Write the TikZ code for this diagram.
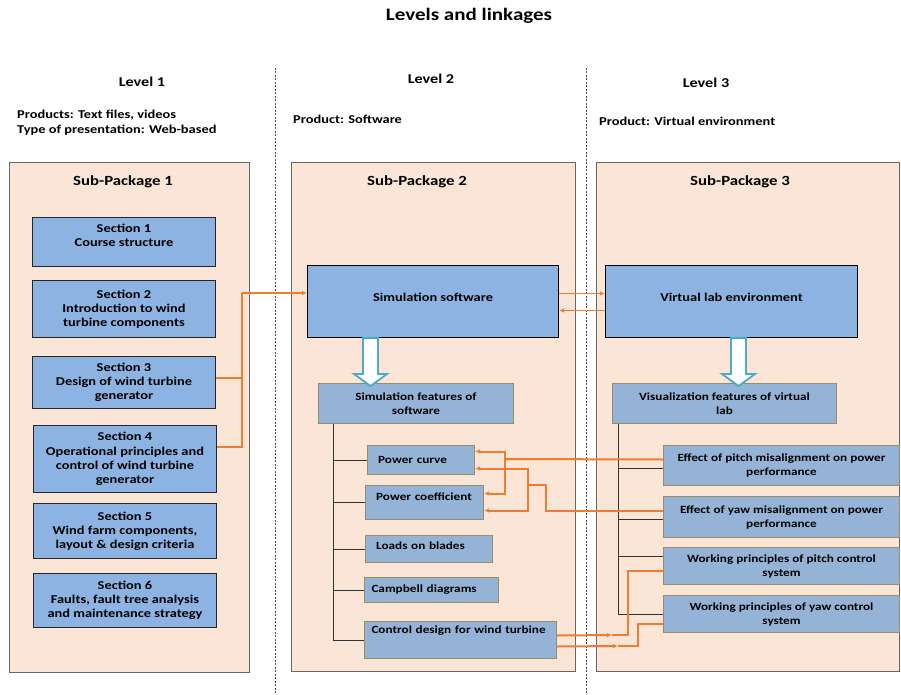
\documentclass[tikz,border=0pt]{standalone}
\usepackage{fontspec}
\setmainfont{Carlito}[FakeStretch=1.2]
\usetikzlibrary{arrows.meta}
\definecolor{peach}{HTML}{FBE5D6}
\definecolor{secblue}{HTML}{8DB3E2}
\definecolor{featblue}{HTML}{95B3D7}
\definecolor{featline}{HTML}{968F65}
\definecolor{pkgline}{HTML}{6B6560}
\definecolor{hollowteal}{HTML}{4BACC6}
\definecolor{linkorange}{HTML}{ED7D31}

\begin{document}
\begin{tikzpicture}
[x=1pt,y=-1pt,%
  every node/.style={font=\bfseries\fontsize{12}{14.5}\selectfont,inner sep=2pt},%
  subpkg/.style={draw=pkgline,fill=peach,line width=1.3pt,anchor=north west},%
  secbox/.style={draw=black!85,fill=secblue,line width=1pt,align=center,anchor=north west,%
    font=\bfseries\fontsize{12}{14.2}\selectfont},%
  featbox/.style={draw=featline,fill=featblue,line width=1pt,align=center,anchor=north west,%
    font=\bfseries\fontsize{11}{14}\selectfont},%
  itembox/.style={featbox,align=left,inner xsep=7pt},%
  tree/.style={draw=black!80,line width=0.8pt},%
  link/.style={draw=linkorange,line width=2pt,-{Latex[length=5pt,width=4.5pt]}},%
  hollow/.style={draw=hollowteal,fill=white,line width=1.8pt,line join=miter},%
  levelsep/.style={draw=black!70,line width=0.8pt,dash pattern=on 2pt off 1.5pt}]
\path[fill=white,use as bounding box] (0,0) rectangle (901,695);

% titles
\node[font=\bfseries\fontsize{17.5}{20}\selectfont] (title) at (469,16) {Levels and linkages};
\node[font=\bfseries\fontsize{13.5}{16}\selectfont] (lev1) at (142,82) {Level 1};
\node[font=\bfseries\fontsize{13.5}{16}\selectfont] (lev2) at (431,79) {Level 2};
\node[font=\bfseries\fontsize{13.5}{16}\selectfont] (lev3) at (706,83) {Level 3};
\node[anchor=west,align=left,inner sep=0pt,font=\bfseries\fontsize{12}{15}\selectfont] (prod1) at (17,122.5)
  {Products: Text files, videos\\Type of presentation: Web-based};
\node[anchor=west,inner sep=0pt] (prod2) at (293,119) {Product: Software};
\node[anchor=west,inner sep=0pt] (prod3) at (599,121) {Product: Virtual environment};

% level separators
\draw[levelsep] (275,68) -- (275,695);
\draw[levelsep] (586,68) -- (586,695);

% sub-packages
\node[subpkg,minimum width=240,minimum height=510] (sp1) at (9,162) {};
\node[subpkg,minimum width=284,minimum height=509] (sp2) at (291,162) {};
\node[subpkg,minimum width=303,minimum height=509] (sp3) at (596,162) {};
\node[font=\bfseries\fontsize{14}{16}\selectfont] (ttl1) at (123,182) {Sub-Package 1};
\node[font=\bfseries\fontsize{14}{16}\selectfont] (ttl2) at (417,182) {Sub-Package 2};
\node[font=\bfseries\fontsize{14}{16}\selectfont] (ttl3) at (740,182) {Sub-Package 3};

% level 1
\node[secbox,minimum width=183,minimum height=49,text depth=13pt] (sec1) at (32,217) {Section 1\\Course structure};
\node[secbox,minimum width=183,minimum height=57] (sec2) at (32,280) {Section 2\\Introduction to wind\\turbine components};
\node[secbox,minimum width=183,minimum height=52] (sec3) at (32,356) {Section 3\\Design of wind turbine\\generator};
\node[secbox,minimum width=183,minimum height=67] (sec4) at (33,425) {Section 4\\Operational principles and\\control of wind turbine\\generator};
\node[secbox,minimum width=183,minimum height=55] (sec5) at (33,503) {Section 5\\Wind farm components,\\layout \& design criteria};
\node[secbox,minimum width=183,minimum height=54] (sec6) at (33,573) {Section 6\\Faults, fault tree analysis\\and maintenance strategy};

% level 2
\node[secbox,draw=black,minimum width=251,minimum height=72,text depth=8pt] (sim) at (307,265) {Simulation software};
\node[featbox,minimum width=195,minimum height=40] (sf) at (318,383) {Simulation features of\\software};
\node[itembox,minimum width=107,text width=93,minimum height=29] (pcv) at (367,445) {~Power curve};
\node[itembox,minimum width=118,text width=104,minimum height=34,text depth=12pt] (pco) at (365,485) {~Power coefficient};
\node[itembox,minimum width=127,text width=113,minimum height=27,text depth=7pt] (lob) at (365,535) {~Loads on blades};
\node[itembox,minimum width=134,text width=120,minimum height=25] (cam) at (364,577) {Campbell diagrams};
\node[itembox,minimum width=192,text width=178,minimum height=37,text depth=20pt] (cd) at (364,621) {Control design for wind turbine};

% level 3
\node[secbox,draw=black,minimum width=252,minimum height=72,text depth=8pt] (vle) at (605,265) {Virtual lab environment};
\node[featbox,minimum width=224,minimum height=40] (vis) at (612,383) {Visualization features of virtual\\lab};
\node[featbox,minimum width=236,minimum height=40] (pe) at (663,445) {Effect of pitch misalignment on power\\performance};
\node[featbox,minimum width=236,minimum height=41] (ye) at (663,496) {Effect of yaw misalignment on power\\performance};
\node[featbox,minimum width=236,minimum height=37] (wpc) at (663,547) {Working principles of pitch control\\system};
\node[featbox,minimum width=236,minimum height=37] (wyc) at (663,595) {Working principles of yaw control\\system};

% hollow arrows
\foreach \n/\dx in {sim/56,vle/126}
  \draw[hollow] ([xshift=\dx pt]\n.south west) -- ++(15,0) -- ++(0,36) -- ++(9,0)
    -- ++(-16.5,12) -- ++(-16.5,-12) -- ++(9,0) -- cycle;

% feature trees
\coordinate (t2) at ([xshift=15pt]sf.south west);
\draw[tree] (t2) |- (cd.west);
\foreach \n in {pcv,pco,lob,cam}
  \draw[tree] (\n.west) -- (\n.west -| t2);
\coordinate (t3) at ([xshift=6pt]vis.south west);
\draw[tree] (t3) |- (wyc.west);
\foreach \n/\s in {pe/-3,ye/-2.5,wpc/9.5}
  \draw[tree] ([yshift=\s pt]\n.west) -- ++(-45,0);

% linkages
\coordinate (j1) at (242,293);
\draw[link,-] ([yshift=5pt]sec3.east) -| (j1);
\draw[link,-] ([yshift=12pt]sec4.east) -| (j1);
\draw[link] (j1) -- (sim.west |- j1);
\draw[link,line width=1.4pt] ([yshift=8pt]sim.east) -- ([yshift=8pt]vle.west);
\draw[link,line width=1.4pt] ([yshift=-9pt]vle.west) -- ([yshift=-9pt]sim.east);

\coordinate (j2) at (505,459);
\draw[link,-] ([yshift=6pt]pe.west) -- (j2);
\draw[link] (j2) |- ([yshift=8.5pt]pcv.east);
\draw[link] (j2) |- ([yshift=9pt]pco.east);

\coordinate (k3) at (546,485);
\coordinate (j3) at (528,485);
\draw[link,-] ([yshift=6.5pt]ye.west) -| (k3) -- (j3);
\draw[link] (j3) |- ([yshift=-8.5pt]pcv.east);
\draw[link] (j3) |- ([yshift=-8pt]pco.east);

\coordinate (m1) at (612,635);
\coordinate (m2) at (618,646);
\draw[link] ([yshift=4.5pt]cd.east) -- (m1);
\draw[link,-] (m1) -| ([xshift=-35pt,yshift=-4.5pt]wpc.west) -- ([yshift=-4.5pt]wpc.west);
\draw[link] ([yshift=-6.5pt]cd.east) -- (m2);
\draw[link,-] (m2) -| ([xshift=-25pt,yshift=-9.5pt]wyc.west) -- ([yshift=-9.5pt]wyc.west);
\end{tikzpicture}
\end{document}
